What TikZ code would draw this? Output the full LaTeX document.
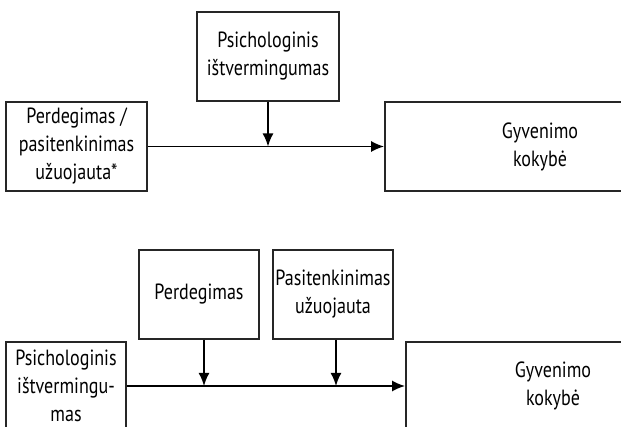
\documentclass[tikz,border=0pt]{standalone}
\usepackage{fontspec}
\setmainfont[FakeStretch=0.82]{PT Sans}
\usetikzlibrary{arrows.meta}
\begin{document}
\begin{tikzpicture}[x=1pt,y=-1pt,
  box/.style={draw=black!85, line width=1.7pt, align=center, inner sep=0pt,
    font=\fontsize{22}{28}\selectfont},
  conn/.style={line width=1.8pt, -{Latex[length=13pt,width=11pt]}}]
\useasboundingbox (0,0) rectangle (621,427);
\clip (0,0) rectangle (621,427);
% top
\node[box, minimum width=141pt, minimum height=89pt] (A) at (76.5,146.5) {Perdegimas /\\pasitenkinimas\\užuojauta*};
\node[box, minimum width=142pt, minimum height=89pt] (B) at (268,56.5) {Psichologinis\\ištvermingumas};
\node[box, minimum width=310pt, minimum height=89pt, text width=310pt] (C) at (540,146.5) {Gyvenimo\\kokybė};
\draw[conn] (A.east) -- (C.west);
\draw[conn] (B.south) -- (B.south |- A.east);
% bottom
\node[box, minimum width=120pt, minimum height=88pt] (P) at (66,386) {Psichologinis\\ištvermingu-\\mas};
\node[box, minimum width=120pt, minimum height=89pt] (Per) at (199,294.5) {Perdegimas};
\node[box, minimum width=120pt, minimum height=89pt] (Pas) at (333,294.5) {Pasitenkinimas\\užuojauta};
\node[box, minimum width=294pt, minimum height=88pt, text width=294pt] (G) at (553,386) {Gyvenimo\\kokybė};
\draw[conn] (P.east) -- (G.west);
\coordinate (perx) at ([xshift=5pt]Per.south);
\coordinate (pasx) at ([xshift=3pt]Pas.south);
\draw[conn] (perx) -- (perx |- P.east);
\draw[conn] (pasx) -- (pasx |- P.east);
\end{tikzpicture}
\end{document}
